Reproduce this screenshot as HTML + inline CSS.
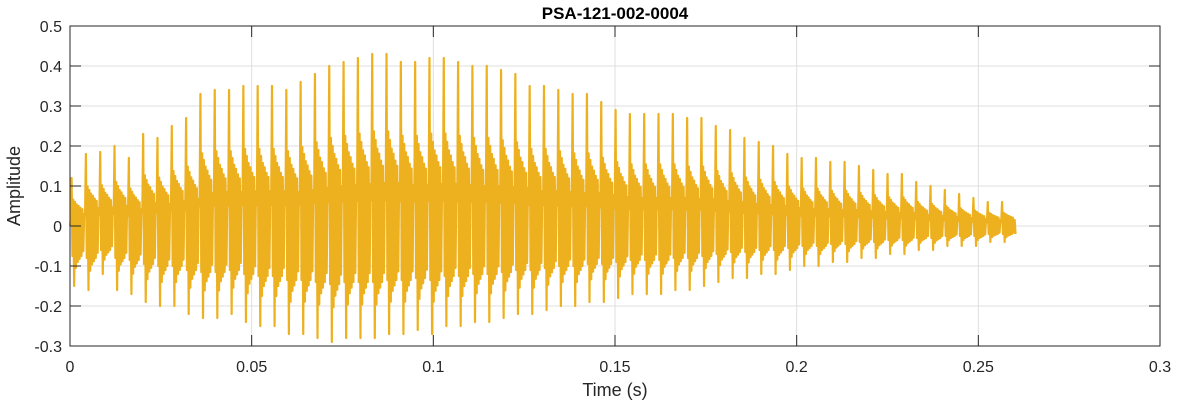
<!DOCTYPE html>
<html><head><meta charset="utf-8"><style>
body{margin:0;background:#fff;font-family:"Liberation Sans",sans-serif}
svg text{font-family:"Liberation Sans",sans-serif}
</style></head><body>
<svg id="chart" width="1177" height="404" xmlns="http://www.w3.org/2000/svg">
<rect width="1177" height="404" fill="#fff"/>
<g id="grid"></g>
<path id="wave" fill="none" stroke="#EDB120" stroke-width="2.2" stroke-linejoin="round"/>
<rect x="70" y="26" width="1090" height="320" fill="none" stroke="#262626" stroke-width="1"/>
<g id="ticks"></g>
<text x="615" y="19" text-anchor="middle" font-weight="bold" font-size="17" fill="#000">PSA-121-002-0004</text>
<text x="615" y="396" text-anchor="middle" font-size="18" fill="#262626">Time (s)</text>
<text transform="translate(20,186) rotate(-90)" text-anchor="middle" font-size="18" fill="#262626">Amplitude</text>
</svg>
<script>
const xTicks=[0,0.05,0.1,0.15,0.2,0.25,0.3];
const xTickLabels=["0","0.05","0.1","0.15","0.2","0.25","0.3"];
const yTicks=[-0.3,-0.2,-0.1,0,0.1,0.2,0.3,0.4,0.5];
const yTickLabels=["-0.3","-0.2","-0.1","0","0.1","0.2","0.3","0.4","0.5"];
const pulseStart=0.0002, pulsePeriod=0.00394;
const pulseHigh=[0.12,0.18,0.185,0.2,0.17,0.23,0.22,0.25,0.27,0.33,0.34,0.34,0.35,0.35,0.35,0.34,0.36,0.38,0.40,0.41,0.42,0.43,0.43,0.41,0.41,0.42,0.42,0.41,0.40,0.40,0.39,0.38,0.35,0.35,0.34,0.33,0.33,0.31,0.29,0.28,0.28,0.28,0.28,0.27,0.27,0.25,0.24,0.22,0.21,0.2,0.18,0.17,0.17,0.16,0.16,0.15,0.14,0.13,0.13,0.11,0.1,0.09,0.08,0.07,0.06,0.06];
const pulseLow=[-0.15,-0.16,-0.12,-0.16,-0.17,-0.19,-0.2,-0.2,-0.22,-0.23,-0.23,-0.22,-0.24,-0.25,-0.25,-0.27,-0.27,-0.28,-0.29,-0.28,-0.28,-0.28,-0.27,-0.27,-0.26,-0.27,-0.25,-0.25,-0.24,-0.24,-0.23,-0.22,-0.22,-0.21,-0.2,-0.2,-0.19,-0.19,-0.18,-0.17,-0.17,-0.17,-0.16,-0.16,-0.15,-0.14,-0.13,-0.13,-0.12,-0.12,-0.11,-0.1,-0.1,-0.09,-0.09,-0.08,-0.08,-0.07,-0.07,-0.06,-0.06,-0.05,-0.05,-0.05,-0.04,-0.04];
const shapePhase=[0,0.06,0.12,0.18,0.24,0.3,0.36,0.42,0.49,0.55,0.62,0.68,0.75,0.81,0.88,0.94];
const shapeGain=[0.15,1,-0.5,0.55,-1,0.5,-0.7,0.45,-0.6,0.42,-0.55,0.38,-0.5,0.35,-0.42,0.25];

const X=t=>70+(t/0.3)*1090;
const Y=v=>26+(0.5-v)/0.8*320;
const NS="http://www.w3.org/2000/svg";
const grid=document.getElementById('grid'), ticks=document.getElementById('ticks');
function mk(tag,attrs,parent){const e=document.createElementNS(NS,tag);for(const k in attrs)e.setAttribute(k,attrs[k]);parent.appendChild(e);return e;}
xTicks.forEach((t,i)=>{
  const g=mk('line',{x1:X(t),x2:X(t),y1:26,y2:346,stroke:'#dfdfdf','stroke-width':1},grid);
  
  
  mk('line',{x1:X(t),x2:X(t),y1:346,y2:335,stroke:'#262626'},ticks);
  mk('line',{x1:X(t),x2:X(t),y1:26,y2:37,stroke:'#262626'},ticks);
  const l=mk('text',{x:X(t),y:372,'text-anchor':'middle','font-size':16,fill:'#262626'},ticks);
  l.textContent=xTickLabels[i];
  
  
});
yTicks.forEach((v,i)=>{
  const g=mk('line',{x1:70,x2:1160,y1:Y(v),y2:Y(v),stroke:'#dfdfdf','stroke-width':1},grid);
  
  
  mk('line',{x1:70,x2:81,y1:Y(v),y2:Y(v),stroke:'#262626'},ticks);
  mk('line',{x1:1160,x2:1149,y1:Y(v),y2:Y(v),stroke:'#262626'},ticks);
  const l=mk('text',{x:62,y:Y(v)+6,'text-anchor':'end','font-size':16,fill:'#262626'},ticks);
  l.textContent=yTickLabels[i];
  
  
});
let d='M'+X(0)+' '+Y(0);
const n=Math.min(pulseHigh.length,pulseLow.length);
for(let i=0;i<n;i++){
  const t0=pulseStart+i*pulsePeriod;
  for(let k=0;k<shapePhase.length;k++){
    const g=shapeGain[k];
    const v=g>=0?g*pulseHigh[i]:-g*pulseLow[i];
    d+=' L'+X(t0+shapePhase[k]*pulsePeriod).toFixed(2)+' '+Y(v).toFixed(2);
  }
}
d+=' L'+X(pulseStart+n*pulsePeriod).toFixed(2)+' '+Y(-0.02);
document.getElementById('wave').setAttribute('d',d);
</script>
</body></html>
